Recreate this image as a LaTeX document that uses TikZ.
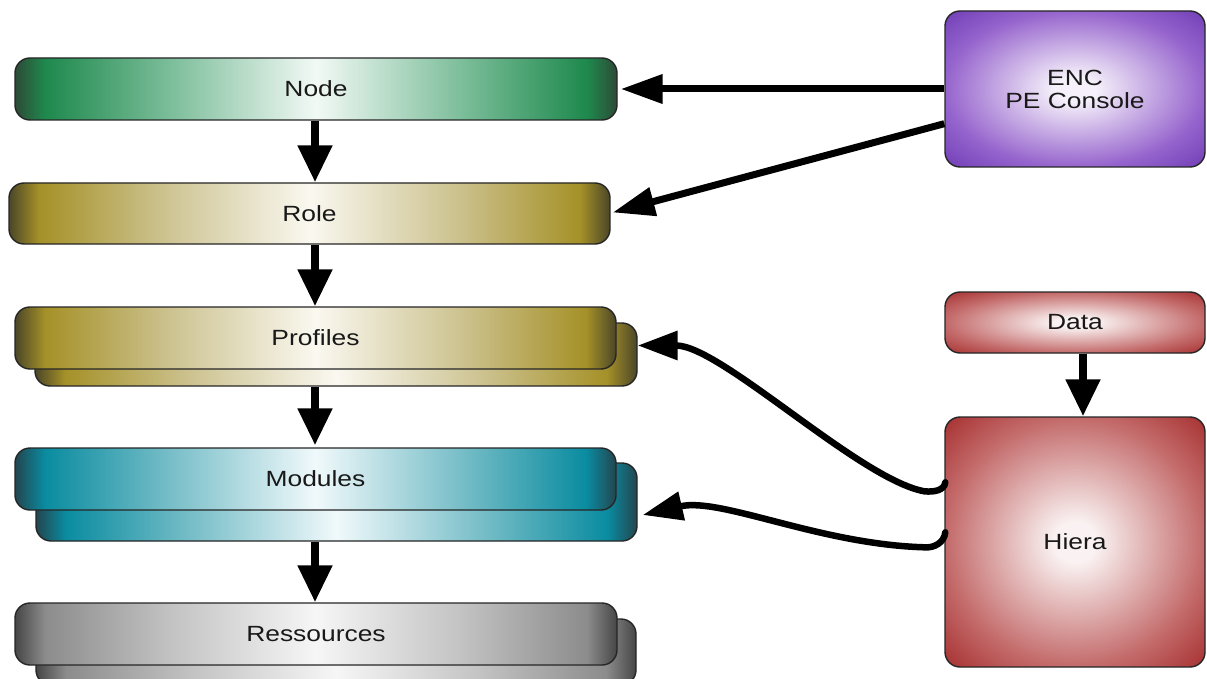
\documentclass[tikz,border=0pt]{standalone}
\usepackage{fontspec}
\setmainfont{Liberation Sans}[FakeStretch=1.2]
\usetikzlibrary{arrows.meta,calc}

\definecolor{gEdge}{RGB}{45,75,55}
\definecolor{gStrong}{RGB}{30,137,77}
\definecolor{gMid}{RGB}{125,190,155}
\definecolor{gCenter}{RGB}{242,249,245}
\definecolor{oEdge}{RGB}{75,70,40}
\definecolor{oStrong}{RGB}{165,145,40}
\definecolor{oMid}{RGB}{205,195,145}
\definecolor{oCenter}{RGB}{250,248,240}
\definecolor{tEdge}{RGB}{35,70,80}
\definecolor{tStrong}{RGB}{10,140,160}
\definecolor{tMid}{RGB}{120,190,200}
\definecolor{tCenter}{RGB}{240,249,251}
\definecolor{sEdge}{RGB}{70,70,70}
\definecolor{sStrong}{RGB}{140,140,140}
\definecolor{sMid}{RGB}{195,195,195}
\definecolor{sCenter}{RGB}{246,246,246}
\definecolor{pCenter}{RGB}{245,240,250}
\definecolor{pMid}{RGB}{150,100,205}
\definecolor{pDark}{RGB}{110,60,180}
\definecolor{rCenter}{RGB}{250,242,242}
\definecolor{rMid}{RGB}{195,105,105}
\definecolor{rDark}{RGB}{165,45,45}

\pgfdeclarehorizontalshading{greentube}{100bp}{color(0bp)=(gEdge); color(25bp)=(gEdge); color(27.5bp)=(gStrong); color(38bp)=(gMid); color(50bp)=(gCenter); color(62bp)=(gMid); color(72.5bp)=(gStrong); color(75bp)=(gEdge); color(100bp)=(gEdge)}
\pgfdeclarehorizontalshading{olivetube}{100bp}{color(0bp)=(oEdge); color(25bp)=(oEdge); color(27.5bp)=(oStrong); color(38bp)=(oMid); color(50bp)=(oCenter); color(62bp)=(oMid); color(72.5bp)=(oStrong); color(75bp)=(oEdge); color(100bp)=(oEdge)}
\pgfdeclarehorizontalshading{tealtube}{100bp}{color(0bp)=(tEdge); color(25bp)=(tEdge); color(27.5bp)=(tStrong); color(38bp)=(tMid); color(50bp)=(tCenter); color(62bp)=(tMid); color(72.5bp)=(tStrong); color(75bp)=(tEdge); color(100bp)=(tEdge)}
\pgfdeclarehorizontalshading{greytube}{100bp}{color(0bp)=(sEdge); color(25bp)=(sEdge); color(27.5bp)=(sStrong); color(38bp)=(sMid); color(50bp)=(sCenter); color(62bp)=(sMid); color(72.5bp)=(sStrong); color(75bp)=(sEdge); color(100bp)=(sEdge)}
\pgfdeclareradialshading{purpleglow}{\pgfpoint{0bp}{0bp}}{color(0bp)=(pCenter); color(4bp)=(pCenter); color(25bp)=(pMid); color(36bp)=(pDark); color(50bp)=(pDark)}
\pgfdeclareradialshading{redglow}{\pgfpoint{0bp}{0bp}}{color(0bp)=(rCenter); color(4bp)=(rCenter); color(25bp)=(rMid); color(36bp)=(rDark); color(50bp)=(rDark)}

\tikzset{
  box/.style={draw=black!85, line width=1.4pt, rounded corners=15pt, inner sep=0pt,
    shade, font=\fontsize{22}{23}\selectfont, text=black!90, align=center},
  gbox/.style={box, shading=greentube},
  obox/.style={box, shading=olivetube},
  tbox/.style={box, shading=tealtube},
  sbox/.style={box, shading=greytube},
  pbox/.style={box, shading=purpleglow},
  rbox/.style={box, shading=redglow},
  varr/.style={line width=8pt, -{Triangle[length=37pt,width=33pt]}},
  harr/.style={line width=7pt, -{Triangle[length=42pt,width=28pt]}},
  carr/.style={line width=6.5pt, line cap=round, -{Triangle[length=40pt,width=28pt]}},
}

\begin{document}
\begin{tikzpicture}[x=1pt,y=-1pt]
\useasboundingbox (0,0) rectangle (1207,679);
\fill[white] (0,0) rectangle (1207,679);

% left column
\node[gbox, minimum width=602pt, minimum height=62pt] (node) at (316,89) {Node};
\node[obox, minimum width=601pt, minimum height=61pt] (role) at (309.5,213.5) {Role};
\node[obox, minimum width=602pt, minimum height=63pt] (profback) at (336,354.5) {};
\node[obox, minimum width=601pt, minimum height=62pt] (prof) at (315.5,338) {Profiles};
\node[tbox, minimum width=601pt, minimum height=78pt] (modback) at (336.5,502) {};
\node[tbox, minimum width=601pt, minimum height=62pt] (mod) at (315.5,479) {Modules};
\node[sbox, minimum width=600pt, minimum height=66pt] (resback) at (336,652) {};
\node[sbox, minimum width=602pt, minimum height=62pt] (res) at (316,634) {Ressources};

% right column
\node[pbox, minimum width=260pt, minimum height=156pt] (enc) at (1075,89) {ENC\\PE Console};
\node[rbox, minimum width=260pt, minimum height=61pt] (data) at (1075,322.5) {Data};
\node[rbox, minimum width=260pt, minimum height=250pt] (hiera) at (1075,542) {Hiera};

% vertical arrows
\coordinate (ax) at (315,0);
\draw[varr] (node.south -| ax) -- (role.north -| ax);
\draw[varr] (role.south -| ax) -- (prof.north -| ax);
\draw[varr] (profback.south -| ax) -- ($(mod.north -| ax)+(0,-2)$);
\draw[varr] (modback.south -| ax) -- (res.north -| ax);
\coordinate (dx) at (1083,0);
\draw[varr] (data.south -| dx) -- (hiera.north -| dx);

% ENC arrows
\draw[harr] (enc.west) -- ($(node.east)+(3,0)$);
\coordinate (e2) at ($(enc.south west)+(0,-44)$);
\draw[harr] (e2) -- ($(role.east)+(2,-1)$);

% Hiera arrows
\coordinate (h1) at ($(hiera.north west)+(1,66)$);
\coordinate (k1) at ($(h1)+(-21,9)$);
\coordinate (ptip) at ($(profback.east)+(0,-9)$);
\draw[carr] (h1) .. controls +(-1,8) and +(10,1) .. (k1) .. controls +(-65,-12) and +(83,0) .. (ptip);
\coordinate (h2) at ($(hiera.north west)+(1,116)$);
\coordinate (k2) at ($(h2)+(-21,15)$);
\coordinate (mtip) at ($(modback.east)+(5,13)$);
\draw[carr] (h2) .. controls +(-1,10) and +(10,1) .. (k2) .. controls +(-105,-3) and +(78,-18) .. (mtip);
\end{tikzpicture}
\end{document}
